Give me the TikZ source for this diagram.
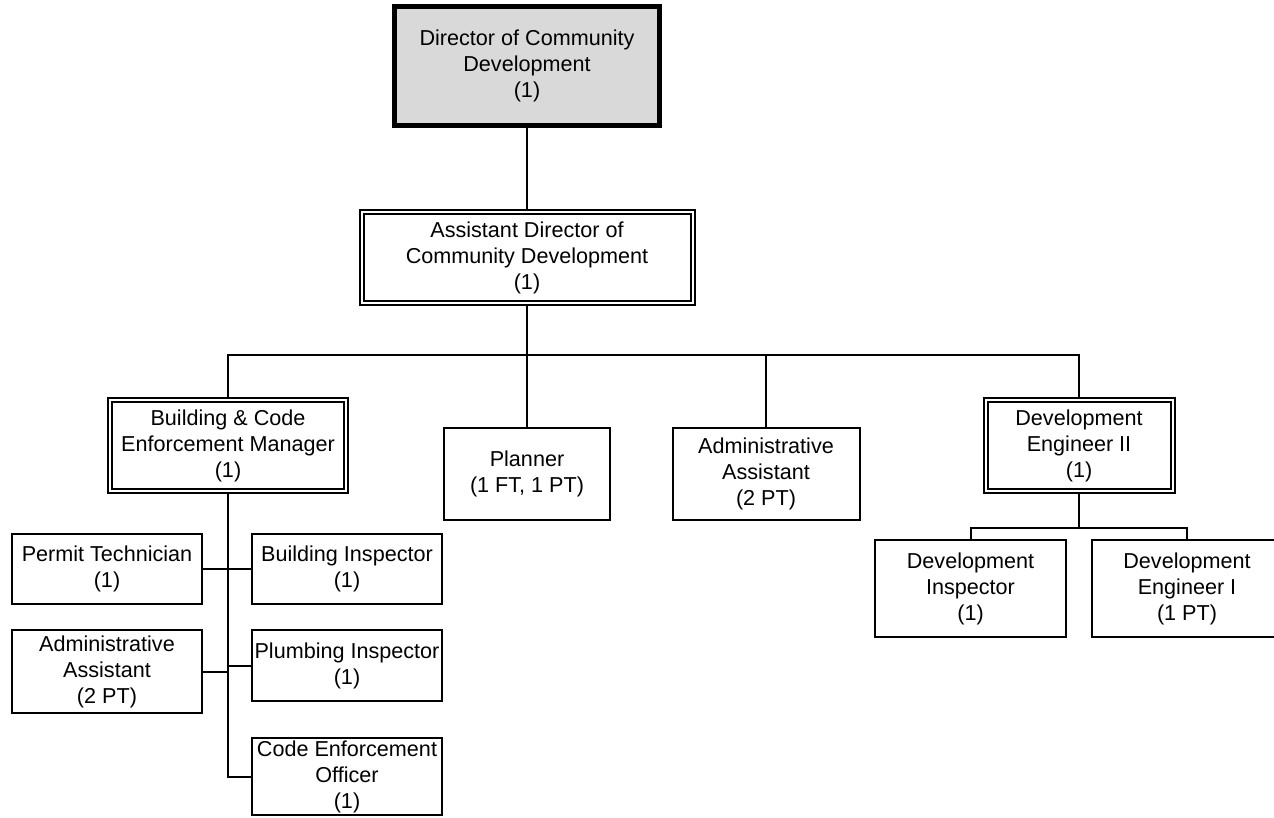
\documentclass[tikz,border=0pt]{standalone}
\usepackage{fontspec}
\setmainfont{Liberation Sans}
\definecolor{boxgray}{HTML}{D9D9D9}
\tikzset{
  box/.style={draw, line width=2pt, inner sep=0pt, align=center, font=\fontsize{21.6}{26}\selectfont},
  dbox/.style={box, double, double distance=2pt, line width=2pt},
  topbox/.style={box, fill=boxgray, line width=5pt},
  conn/.style={line width=2pt}
}
\begin{document}
\begin{tikzpicture}[x=1pt,y=-1pt]
\useasboundingbox (0,0) rectangle (1274,817);
\clip (0,0) rectangle (1274,817);

\node[topbox, minimum width=265pt, minimum height=119pt] (dir) at (527,66) {Director of Community\\Development\\(1)};
\node[dbox, minimum width=331pt, minimum height=91pt] (asst) at (527,257.5) {Assistant Director of\\Community Development\\(1)};

\node[dbox, minimum width=236pt, minimum height=91pt] (bcm) at (228,445.5) {Building \& Code\\Enforcement Manager\\(1)};
\node[box, minimum width=166pt, minimum height=92pt] (planner) at (527,474) {Planner\\(1 FT, 1 PT)};
\node[box, minimum width=187pt, minimum height=92pt] (adm1) at (766,474) {Administrative\\Assistant\\(2 PT)};
\node[dbox, minimum width=187pt, minimum height=91pt] (de2) at (1079,445.5) {Development\\Engineer II\\(1)};

\node[box, minimum width=191pt, minimum height=97pt] (di) at (970.5,588.5) {Development\\Inspector\\(1)};
\node[box, minimum width=191pt, minimum height=97pt] (de1) at (1187,588.5) {Development\\Engineer I\\(1 PT)};

\node[box, minimum width=190pt, minimum height=70pt] (pt) at (107,569) {Permit Technician\\(1)};
\node[box, minimum width=190pt, minimum height=83pt] (aa2) at (107,671.5) {Administrative\\Assistant\\(2 PT)};
\node[box, minimum width=190pt, minimum height=70pt] (bi) at (347,569) {Building Inspector\\(1)};
\node[box, minimum width=190pt, minimum height=71pt] (pi) at (347,665.5) {Plumbing Inspector\\(1)};
\node[box, minimum width=190pt, minimum height=77pt] (ceo) at (347,776.5) {Code Enforcement\\Officer\\(1)};

\coordinate (bus) at (527,355);
\coordinate (bus2) at (1079,528);

\draw[conn] (dir.south) -- (asst.north);
\draw[conn] (asst.south) -- (bus);
\draw[conn] (bcm.north) |- (bus) -| (de2.north);
\draw[conn] (planner.north) -- (planner.north |- bus);
\draw[conn] (adm1.north) -- (adm1.north |- bus);

\draw[conn] (de2.south) -- (bus2);
\draw[conn] (di.north) |- (bus2) -| (de1.north);

\draw[conn] (bcm.south) -- (bcm.south |- ceo.west) -- (ceo.west);
\draw[conn] (pt.east) -- (bi.west);
\draw[conn] (aa2.east) -- (aa2.east -| bcm.south);
\draw[conn] (pi.west) -- (pi.west -| bcm.south);
\end{tikzpicture}
\end{document}
